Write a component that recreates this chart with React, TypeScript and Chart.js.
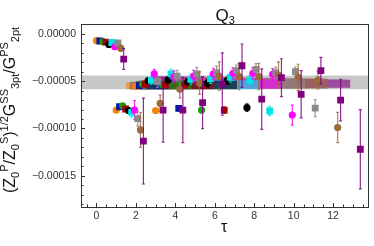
import React, { useEffect, useRef } from 'react';
import { Chart, registerables } from 'chart.js';
Chart.register(...registerables);

// ---- data ----
const seriesColors = ['#f5820a', '#0a14a8', '#13a013', '#a80000', '#000000', '#00e6e6', '#ff00ff', '#8a8a8a', '#9c6b3b', '#800080'];
const seriesRGB = ['245,130,10', '10,20,168', '19,160,19', '168,0,0', '0,0,0', '0,230,230', '255,0,255', '138,138,138', '156,107,59', '128,0,128'];
const markerStyles = ['circle', 'rect', 'circle', 'rect', 'circle', 'rect', 'circle', 'rect', 'circle', 'rect'];
const tauOffsets = [0, 0.17, 0.33, 0.48, 0.63, 0.78, 0.93, 1.09, 1.23, 1.38];

const valuesT3 = [-7.0e-6, -8.05e-5, -5.55e-5, -8.1e-5];
const errorsT3 = [1e-6, 2e-6, 2e-6, 2e-6];
const valuesT4 = [-7.4e-6, -7.7e-5, -5.45e-5, -5.4e-5, -7.87e-5];
const errorsT4 = [1e-6, 2e-6, 2e-6, 2.5e-6, 3e-6];
const valuesT5 = [-8.1e-6, -7.6e-5, -5.3e-5, -5.35e-5, -5.33e-5, -8.05e-5];
const errorsT5 = [1e-6, 2e-6, 2.5e-6, 3e-6, 3e-6, 3e-6];
const valuesT6 = [-8.5e-6, -7.94e-5, -5.3e-5, -5.4e-5, -5.4e-5, -5.4e-5, -8.05e-5];
const errorsT6 = [1e-6, 2e-6, 3e-6, 3e-6, 3e-6, 3.5e-6, 3.5e-6];
const valuesT7 = [-1.1e-5, -8.1e-5, -4.94e-5, -4.85e-5, -5.05e-5, -5.2e-5, -4.94e-5, -7.8e-5];
const errorsT7 = [1.5e-6, 3e-6, 3e-6, 3.5e-6, 3.5e-6, 4e-6, 4e-6, 4e-6];
const valuesT8 = [-9.0e-6, -8.3e-5, -4.9e-5, -4.23e-5, -4.8e-5, -4.76e-5, -4.6e-5, -4.87e-5, -8.15e-5];
const errorsT8 = [2e-6, 5e-6, 4e-6, 5e-6, 5e-6, 5e-6, 5e-6, 5e-6, 5e-6];
const valuesT9 = [-1.35e-5, -8.05e-5, -4.23e-5, -4.5e-5, -4.45e-5, -4.23e-5, -4.16e-5, -4.16e-5, -4.27e-5, -8.58e-5];
const errorsT9 = [2e-6, 1e-5, 5e-6, 6e-6, 6e-6, 6e-6, 6e-6, 6e-6, 6e-6, 1.06e-5];
const valuesT10 = [-9.5e-6, -8.95e-5, -5.05e-5, -4.45e-5, -4.23e-5, -4.1e-5, -3.88e-5, -3.74e-5, -4.1e-5, -3.99e-5, -7.84e-5];
const errorsT10 = [2e-6, 8e-6, 6e-6, 6e-6, 7e-6, 7e-6, 6e-6, 6e-6, 6e-6, 5e-6, 9e-6];
const valuesT11 = [-1.5e-5, -1.016e-4, -7.34e-5, -5.86e-5, -5.2e-5, -4.45e-5, -4.5e-5, -4.5e-5, -4.34e-5, -4.6e-5, -4.87e-5, -9.9e-5];
const errorsT11 = [3e-6, 1.85e-5, 8.8e-6, 9e-6, 1.2e-5, 1.5e-5, 1.4e-5, 1.4e-5, 1.4e-5, 1.4e-5, 9.5e-6, 1.6e-5];
const valuesT12 = [-2.65e-5, -1.133e-4, -8.05e-5, -8.05e-5, -7.27e-5, -5.3e-5, -3.36e-5, -6.9e-5, -4.62e-5, -6.38e-5, -3.88e-5, -6.99e-5, -1.22e-4];
const errorsT12 = [1.1e-5, 4.55e-5, 3.4e-5, 3.45e-5, 2.75e-5, 3.3e-5, 2.3e-5, 3.2e-5, 2e-5, 2.5e-5, 1.4e-5, 2.2e-5, 4.2e-5];

const allValues = [valuesT3, valuesT4, valuesT5, valuesT6, valuesT7, valuesT8, valuesT9, valuesT10, valuesT11, valuesT12];
const allErrors = [errorsT3, errorsT4, errorsT5, errorsT6, errorsT7, errorsT8, errorsT9, errorsT10, errorsT11, errorsT12];

// fit bands (one per series)
const bandStartTau = [1.5, 1.67, 1.83, 1.98, 2.13, 2.28, 2.43, 2.59, 2.73, 2.88];
const bandEndTau = [2.5, 3.67, 4.83, 5.98, 7.13, 8.28, 9.43, 10.59, 11.73, 12.88];
const bandUpperStart = [-5.1e-5, -5.1e-5, -5.05e-5, -5.0e-5, -4.95e-5, -4.9e-5, -4.8e-5, -4.7e-5, -4.6e-5, -4.45e-5];
const bandUpperEnd = [-5.1e-5, -5.1e-5, -5.05e-5, -5.0e-5, -4.95e-5, -4.9e-5, -4.8e-5, -4.7e-5, -4.7e-5, -4.85e-5];
const bandLowerStart = [-5.85e-5, -5.85e-5, -5.85e-5, -5.85e-5, -5.85e-5, -5.85e-5, -5.8e-5, -5.8e-5, -5.8e-5, -5.75e-5];
const bandLowerEnd = [-5.85e-5, -5.85e-5, -5.85e-5, -5.85e-5, -5.85e-5, -5.85e-5, -5.8e-5, -5.8e-5, -5.8e-5, -5.7e-5];

// global average band
const grayBandHigh = -4.38e-5;
const grayBandLow = -5.86e-5;

const xTicks = [0, 2, 4, 6, 8, 10, 12];
const yTicks = [0, -5e-5, -1e-4, -1.5e-4];
const X_MIN = -0.785;
const X_MAX = 13.83;
const Y_MIN = -1.8315e-4;
const Y_MAX = 1.06e-5;

const FONT = '"Liberation Sans", Arial, sans-serif';

const yLabel = (v: number) => (v === 0 ? '0.00000' : '\u2212' + Math.abs(v).toFixed(5));

const decorPlugin = {
  id: 'decor',
  beforeDatasetDraw(chart: any, args: any) {
    const ds = chart.data.datasets[args.index];
    if (!ds.errors) return;
    const ctx = chart.ctx;
    const ys = chart.scales.y;
    const a = chart.chartArea;
    ctx.save();
    ctx.beginPath();
    ctx.rect(a.left, a.top, a.right - a.left, a.bottom - a.top);
    ctx.clip();
    ctx.strokeStyle = ds.errorColor;
    ctx.lineWidth = 1.2;
    args.meta.data.forEach((pt: any, j: number) => {
      const v = ds.data[j].y;
      const e = ds.errors[j];
      const y1 = ys.getPixelForValue(v + e);
      const y2 = ys.getPixelForValue(v - e);
      ctx.beginPath();
      ctx.moveTo(pt.x, y1);
      ctx.lineTo(pt.x, y2);
      ctx.moveTo(pt.x - 1.5, y1);
      ctx.lineTo(pt.x + 1.5, y1);
      ctx.moveTo(pt.x - 1.5, y2);
      ctx.lineTo(pt.x + 1.5, y2);
      ctx.stroke();
    });
    ctx.restore();
  },
  afterDraw(chart: any) {
    const ctx = chart.ctx;
    const a = chart.chartArea;
    const xs = chart.scales.x;
    const ys = chart.scales.y;
    ctx.save();
    // frame
    ctx.strokeStyle = '#333';
    ctx.lineWidth = 1;
    ctx.strokeRect(Math.round(a.left) + 0.5, Math.round(a.top) + 0.5, Math.round(a.right - a.left) - 1, Math.round(a.bottom - a.top));
    // ticks
    ctx.beginPath();
    for (let v = -0.5; v <= 13.5; v += 0.5) {
      const px = Math.round(xs.getPixelForValue(v)) + 0.5;
      const major = Math.abs(v / 2 - Math.round(v / 2)) < 1e-6;
      const len = major ? 4 : 2.5;
      ctx.moveTo(px, a.bottom);
      ctx.lineTo(px, a.bottom - len);
    }
    for (let v = 0; v >= -1.8e-4; v -= 1e-5) {
      const py = Math.round(ys.getPixelForValue(v)) + 0.5;
      const major = Math.abs(v / 5e-5 - Math.round(v / 5e-5)) < 1e-6;
      const len = major ? 4 : 2.5;
      ctx.moveTo(a.left, py);
      ctx.lineTo(a.left + len, py);
    }
    ctx.stroke();

    ctx.fillStyle = '#111';
    // title Q_3
    ctx.textBaseline = 'alphabetic';
    ctx.font = '17px ' + FONT;
    const qW = ctx.measureText('Q').width;
    ctx.font = '11px ' + FONT;
    const sW = ctx.measureText('3').width;
    const cx = (a.left + a.right) / 2;
    const tx = cx - (qW + sW) / 2;
    ctx.font = '17px ' + FONT;
    ctx.textAlign = 'left';
    ctx.fillText('Q', tx, 20.5);
    ctx.font = '11px ' + FONT;
    ctx.fillText('3', tx + qW, 23.5);

    // x title
    ctx.font = '16px ' + FONT;
    ctx.textAlign = 'center';
    ctx.fillText('\u03c4', cx - 1, 231.5);

    // y title (rotated rich text)
    const segs: [string, string][] = [
      ['(', 'm'], ['Z', 'm'], ['0', 'sub'], ['P', 'sup'], ['/', 'm'], ['Z', 'm'], ['0', 'sub'], ['S', 'sup'], [')', 'm'],
      ['1/2', 'sup'], ['G', 'm'], ['SS', 'sup'], ['3pt', 'sub'], ['/', 'm'], ['G', 'm'], ['PS', 'sup'], ['2pt', 'sub'],
    ];
    ctx.save();
    ctx.translate(14.5, 193);
    ctx.rotate(-Math.PI / 2);
    ctx.textAlign = 'left';
    let u = 0;
    segs.forEach(([t, k]) => {
      if (k === 'm') {
        ctx.font = '16px ' + FONT;
        ctx.fillText(t, u, 0);
      } else {
        ctx.font = '11px ' + FONT;
        ctx.fillText(t, u, k === 'sub' ? 4.5 : -7);
      }
      u += ctx.measureText(t).width;
    });
    ctx.restore();
    ctx.restore();
  },
};

export default function App() {
  const ref = useRef<HTMLCanvasElement | null>(null);
  useEffect(() => {
    if (!ref.current) return;
    const datasets: any[] = [];
    // gray band
    datasets.push({
      data: [{ x: -2, y: grayBandHigh }, { x: 16, y: grayBandHigh }],
      showLine: true, pointRadius: 0, borderWidth: 0, borderColor: 'rgba(0,0,0,0)', order: 1000,
    });
    datasets.push({
      data: [{ x: -2, y: grayBandLow }, { x: 16, y: grayBandLow }],
      showLine: true, pointRadius: 0, borderWidth: 0, borderColor: 'rgba(0,0,0,0)',
      fill: { target: 0 }, backgroundColor: 'rgb(200,200,200)', order: 1000,
    });
    for (let i = 0; i < 10; i++) {
      const upIdx = datasets.length;
      datasets.push({
        data: [{ x: bandStartTau[i], y: bandUpperStart[i] }, { x: bandEndTau[i], y: bandUpperEnd[i] }],
        showLine: true, pointRadius: 0, borderWidth: 0, borderColor: 'rgba(0,0,0,0)', order: 500 + i,
      });
      datasets.push({
        data: [{ x: bandStartTau[i], y: bandLowerStart[i] }, { x: bandEndTau[i], y: bandLowerEnd[i] }],
        showLine: true, pointRadius: 0, borderWidth: 0, borderColor: 'rgba(0,0,0,0)',
        fill: { target: upIdx }, backgroundColor: `rgba(${seriesRGB[i]},0.62)`, order: 500 + i,
      });
    }
    for (let i = 0; i < 10; i++) {
      const vals = allValues[i];
      datasets.push({
        data: vals.map((v, k) => ({ x: k + tauOffsets[i], y: v })),
        errors: allErrors[i],
        errorColor: `rgba(${seriesRGB[i]},0.85)`,
        showLine: false,
        pointStyle: markerStyles[i],
        pointRadius: markerStyles[i] === 'rect' ? 4.8 : 3.6,
        backgroundColor: seriesColors[i],
        borderColor: seriesColors[i],
        borderWidth: 0,
        order: 100 - i,
      });
    }
    const chart = new Chart(ref.current, {
      type: 'scatter',
      data: { datasets },
      options: {
        animation: false,
        responsive: false,
        devicePixelRatio: 1,
        events: [],
        layout: { padding: { top: 24, right: 1, bottom: 0, left: 0 } },
        plugins: { legend: { display: false }, tooltip: { enabled: false }, title: { display: false } },
        scales: {
          x: {
            type: 'linear', min: X_MIN, max: X_MAX,
            grid: { display: false, drawTicks: false },
            border: { display: false },
            afterBuildTicks: (s: any) => { s.ticks = xTicks.map((v) => ({ value: v })); },
            afterFit: (s: any) => { s.height = 39; },
            ticks: { padding: 3, color: '#333', font: { family: FONT, size: 10.5 }, maxRotation: 0, callback: (v: any) => String(v) },
          },
          y: {
            type: 'linear', min: Y_MIN, max: Y_MAX,
            grid: { display: false, drawTicks: false },
            border: { display: false },
            afterBuildTicks: (s: any) => { s.ticks = yTicks.map((v) => ({ value: v })); },
            afterFit: (s: any) => { s.width = 81; },
            ticks: { padding: 5, color: '#333', font: { family: FONT, size: 10.5 }, callback: (v: any) => yLabel(Number(v)) },
          },
        },
      },
      plugins: [decorPlugin],
    } as any);
    return () => chart.destroy();
  }, []);
  return (
    <div style={{ position: 'fixed', left: 0, top: 0, width: 374, height: 246, background: '#fff' }}>
      <canvas ref={ref} width={374} height={246} style={{ display: 'block' }} />
    </div>
  );
}
